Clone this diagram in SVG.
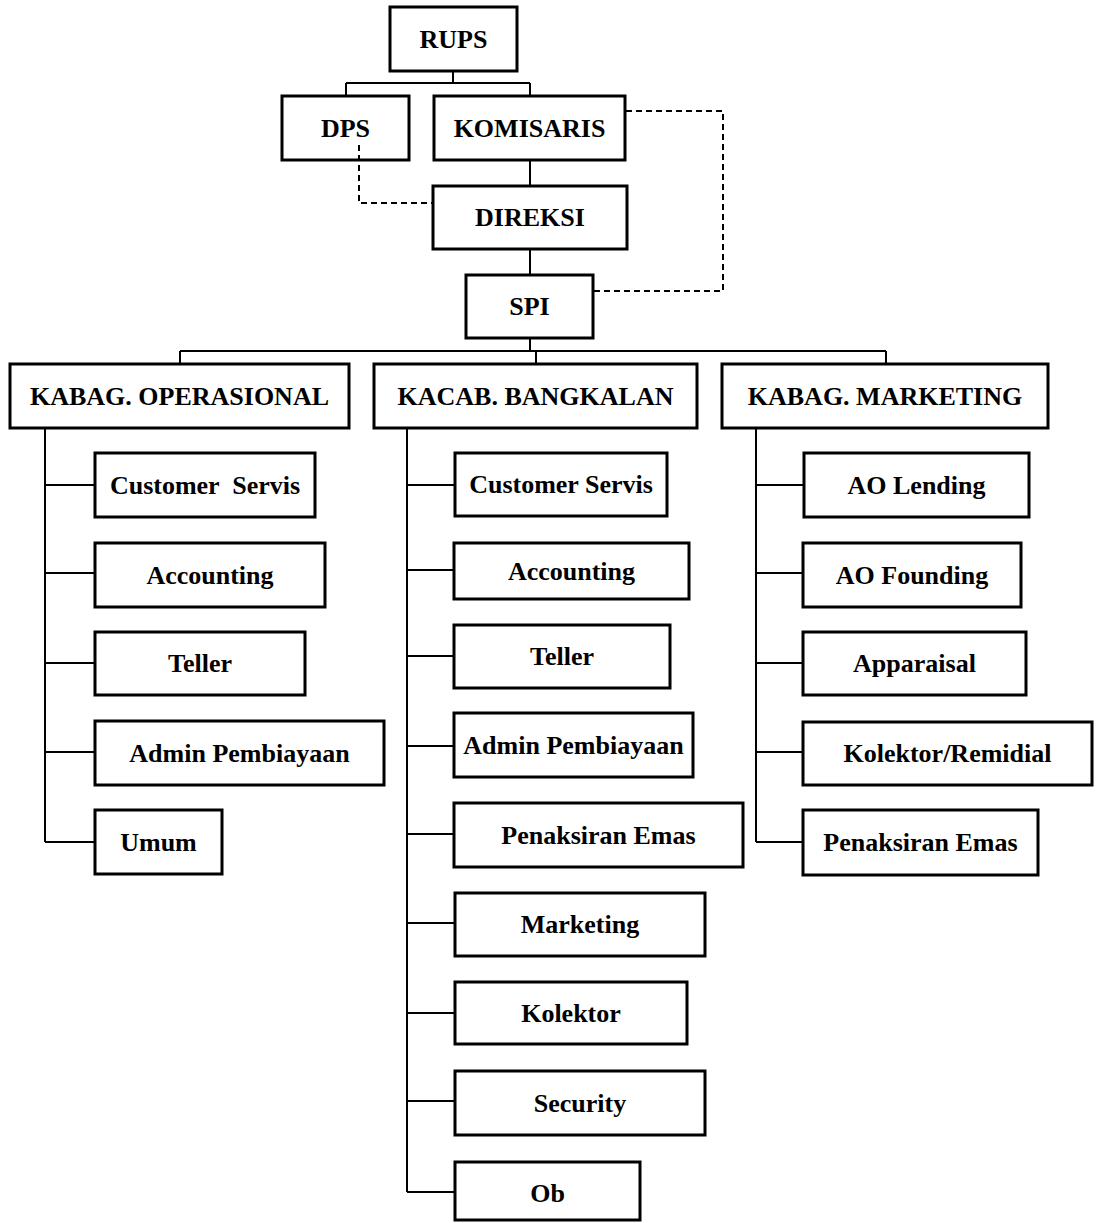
<svg xmlns="http://www.w3.org/2000/svg" width="1101" height="1223" viewBox="0 0 1101 1223">
<style>
.box{fill:#fff;stroke:#000;stroke-width:3}
.t{font-family:"Liberation Serif","Times New Roman",serif;font-weight:bold;font-size:26px;text-anchor:middle;fill:#000;white-space:pre}
.c{fill:none;stroke:#000;stroke-width:2}
.d{fill:none;stroke:#000;stroke-width:2;stroke-dasharray:6 4}
</style>
<rect width="1101" height="1223" fill="#fff"/>
<g id="rups"><rect class="box" x="390" y="7" width="127" height="64"/><text class="t" x="453.5" y="48">RUPS</text></g>
<g id="dps"><rect class="box" x="282" y="96" width="127" height="64"/><text class="t" x="345.5" y="137">DPS</text></g>
<g id="komisaris"><rect class="box" x="434" y="96" width="191" height="64"/><text class="t" x="529.5" y="137">KOMISARIS</text></g>
<g id="direksi"><rect class="box" x="433" y="186" width="194" height="63"/><text class="t" x="530" y="226">DIREKSI</text></g>
<g id="spi"><rect class="box" x="466" y="275" width="127" height="63"/><text class="t" x="529.5" y="315">SPI</text></g>
<g id="kabag-operasional"><rect class="box" x="10" y="364" width="339" height="64"/><text class="t" x="179.5" y="405">KABAG. OPERASIONAL</text></g>
<g id="kacab-bangkalan"><rect class="box" x="374" y="364" width="323" height="64"/><text class="t" x="535.5" y="405">KACAB. BANGKALAN</text></g>
<g id="kabag-marketing"><rect class="box" x="722" y="364" width="326" height="64"/><text class="t" x="885" y="405">KABAG. MARKETING</text></g>
<g id="op-customer-servis"><rect class="box" x="95" y="453" width="220" height="64"/><text class="t" x="205" y="494">Customer  Servis</text></g>
<g id="op-accounting"><rect class="box" x="95" y="543" width="230" height="64"/><text class="t" x="210" y="584">Accounting</text></g>
<g id="op-teller"><rect class="box" x="95" y="632" width="210" height="63"/><text class="t" x="200" y="672">Teller</text></g>
<g id="op-admin"><rect class="box" x="95" y="721" width="289" height="64"/><text class="t" x="239.5" y="762">Admin Pembiayaan</text></g>
<g id="op-umum"><rect class="box" x="95" y="810" width="127" height="64"/><text class="t" x="158.5" y="851">Umum</text></g>
<g id="kc-customer-servis"><rect class="box" x="455" y="453" width="212" height="63"/><text class="t" x="561" y="493">Customer Servis</text></g>
<g id="kc-accounting"><rect class="box" x="454" y="543" width="235" height="56"/><text class="t" x="571.5" y="580">Accounting</text></g>
<g id="kc-teller"><rect class="box" x="454" y="625" width="216" height="63"/><text class="t" x="562" y="665">Teller</text></g>
<g id="kc-admin"><rect class="box" x="454" y="713" width="239" height="64"/><text class="t" x="573.5" y="754">Admin Pembiayaan</text></g>
<g id="kc-penaksiran"><rect class="box" x="454" y="803" width="289" height="64"/><text class="t" x="598.5" y="844">Penaksiran Emas</text></g>
<g id="kc-marketing"><rect class="box" x="455" y="893" width="250" height="63"/><text class="t" x="580" y="933">Marketing</text></g>
<g id="kc-kolektor"><rect class="box" x="455" y="982" width="232" height="62"/><text class="t" x="571" y="1022">Kolektor</text></g>
<g id="kc-security"><rect class="box" x="455" y="1071" width="250" height="64"/><text class="t" x="580" y="1112">Security</text></g>
<g id="kc-ob"><rect class="box" x="455" y="1162" width="185" height="58"/><text class="t" x="547.5" y="1202">Ob</text></g>
<g id="mk-ao-lending"><rect class="box" x="804" y="453" width="225" height="64"/><text class="t" x="916.5" y="494">AO Lending</text></g>
<g id="mk-ao-founding"><rect class="box" x="803" y="543" width="218" height="64"/><text class="t" x="912" y="584">AO Founding</text></g>
<g id="mk-apparaisal"><rect class="box" x="803" y="632" width="223" height="63"/><text class="t" x="914.5" y="672">Apparaisal</text></g>
<g id="mk-kolektor"><rect class="box" x="803" y="722" width="289" height="63"/><text class="t" x="947.5" y="762">Kolektor/Remidial</text></g>
<g id="mk-penaksiran"><rect class="box" x="803" y="810" width="235" height="65"/><text class="t" x="920.5" y="851">Penaksiran Emas</text></g>
<g id="connectors">
<path class="c" d="M453,72V83M346,83H530M346,83V95M530,83V95M530,161V185M530,250V274M530,339V351M180,351H886M180,351V363M536,351V363M886,351V363"/>
<path class="c" d="M45,429V842M45,485H94M45,573H94M45,663H94M45,752H94M45,842H94"/>
<path class="c" d="M407,429V1192M407,485H454M407,570H453M407,656H453M407,746H453M407,834H453M407,923H454M407,1013H454M407,1101H454M407,1192H454"/>
<path class="c" d="M756,429V842M756,485H803M756,573H802M756,663H802M756,752H802M756,842H802"/>
<path class="d" d="M359,145V203H432"/>
<path class="d" d="M626,111H723V291H594"/>
</g>
</svg>
